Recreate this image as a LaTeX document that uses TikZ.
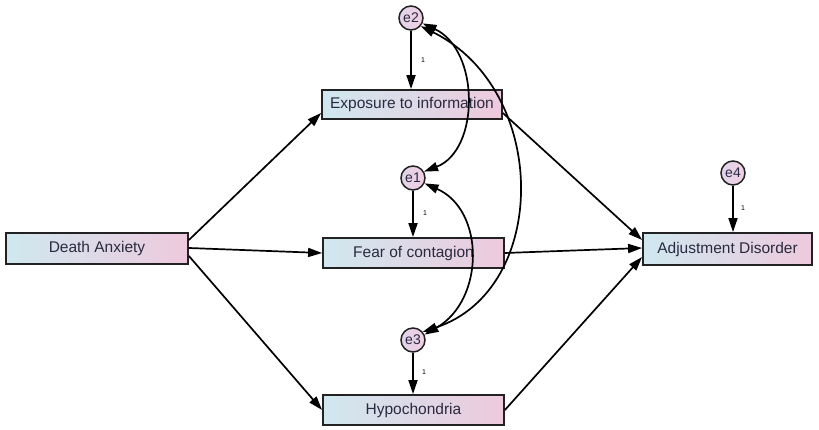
\documentclass[tikz,border=0pt]{standalone}
\usepackage{fontspec}
\setmainfont{Liberation Sans}
\usetikzlibrary{arrows.meta}
\definecolor{boxleft}{HTML}{CFE8EF}
\definecolor{boxright}{HTML}{EEC9DD}
\definecolor{circleft}{HTML}{E2D4EA}
\definecolor{circright}{HTML}{F0CFE0}
\definecolor{edge}{HTML}{222222}
\definecolor{txt}{HTML}{2A2A40}
\tikzset{
  varbox/.style={draw=edge, line width=1.8pt, left color=boxleft, right color=boxright,
    inner sep=0pt, text=txt, font=\fontsize{15.5}{18}\selectfont},
  errcirc/.style={circle, draw=edge, line width=1.5pt, left color=circleft, right color=circright,
    minimum size=24pt, inner sep=0pt, text=txt, font=\fontsize{14}{16}\selectfont},
  path/.style={draw=black, line width=1.7pt, -{Triangle[length=14pt,width=9pt]}},
  cov/.style={draw=black, line width=1.7pt, {Triangle[length=14pt,width=9pt]}-{Triangle[length=14pt,width=9pt]}},
  onelab/.style={font=\fontsize{7}{7}\selectfont, text=black, inner sep=0pt}
}
\begin{document}
\begin{tikzpicture}[x=1pt,y=-1pt]
\useasboundingbox (0,0) rectangle (819,430);
% boxes
\node[varbox, minimum width=182pt, minimum height=31pt] (da) at (97,248.5) {Death Anxiety};
\node[varbox, minimum width=180pt, minimum height=29pt] (ex) at (412,104.5) {Exposure to information};
\node[varbox, minimum width=181pt, minimum height=30pt] (fc) at (413.5,253) {Fear of contagion};
\node[varbox, minimum width=181pt, minimum height=30pt] (hy) at (413.5,410) {Hypochondria};
\node[varbox, minimum width=169pt, minimum height=32pt] (ad) at (727.5,249) {Adjustment Disorder};
% error terms
\node[errcirc] (e2) at (411,18) {e2};
\node[errcirc] (e1) at (413,178) {e1};
\node[errcirc] (e3) at (413,340) {e3};
\node[errcirc] (e4) at (733,173) {e4};
% error paths
\draw[path] (e2) -- (ex.north -| e2);
\draw[path] (e1) -- (fc.north -| e1);
\draw[path] (e3) -- (hy.north -| e3);
\draw[path] (e4) -- (ad.north -| e4);
\node[onelab] (l2) at (423,60) {1};
\node[onelab] (l1) at (425,213) {1};
\node[onelab] (l3) at (424,372) {1};
\node[onelab] (l4) at (743,208) {1};
% structural paths
\draw[path] (da.east |- 0,240) -- (ex.west |- 0,113);
\draw[path] (da.east |- 0,248) -- (fc.west |- 0,253);
\draw[path] (da.east |- 0,256) -- (hy.west |- 0,410);
\draw[path] (ex.east |- 0,113) -- (ad.west |- 0,240);
\draw[path] (fc.east |- 0,253) -- (ad.west |- 0,248);
\draw[path] (hy.east |- 0,410) -- (ad.west |- 0,257);
% covariances
\draw[cov] (e2.-25) .. controls (480,50) and (480,150) .. (e1.30);
\draw[cov] (e2.-40) .. controls (550,90) and (550,290) .. (e3.40);
\draw[cov] (e1.-25) .. controls (485,210) and (485,300) .. (e3.25);
\end{tikzpicture}
\end{document}
